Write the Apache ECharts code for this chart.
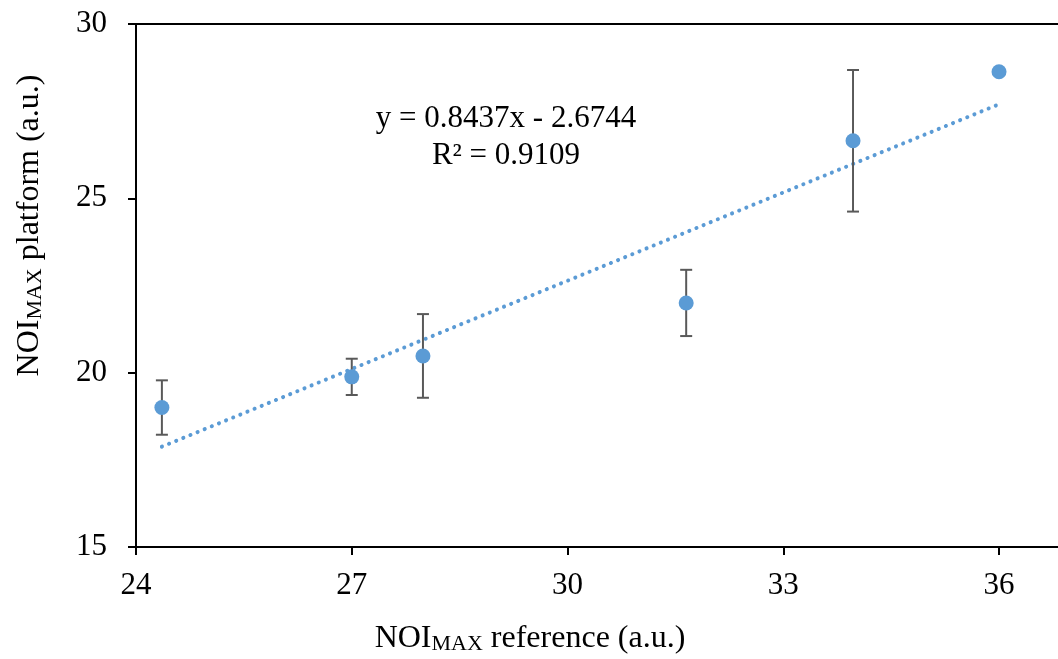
<!DOCTYPE html>
<html>
<head>
<meta charset="utf-8">
<script src="https://cdn.jsdelivr.net/npm/echarts@6/dist/echarts.min.js"></script>
<style>html,body{margin:0;padding:0;background:#fff}#c{width:1058px;height:659px}</style>
</head>
<body>
<div id="c"></div>
<script>
// Data
const xRef = [24.36, 27.0, 27.99, 31.65, 33.97, 36.0];
const yPlat = [19.0, 19.88, 20.48, 22.0, 26.65, 28.63];
const yErr = [0.78, 0.52, 1.2, 0.95, 2.03, 0];
const slope = 0.8437;
const intercept = -2.6744;
const eqText = 'y = 0.8437x - 2.6744';
const r2Text = 'R² = 0.9109';
const xTicks = [24, 27, 30, 33, 36];
const yTicks = [15, 20, 25, 30];

const FONT = 'Liberation Serif';
const BLUE = '#5B9BD5';
const FS = 31;

const points = xRef.map((x, i) => [x, yPlat[i]]);
const errData = xRef.map((x, i) => [x, yPlat[i] - yErr[i], yPlat[i] + yErr[i]]);
const xMinT = Math.min(...xRef), xMaxT = Math.max(...xRef);
const trend = [[xMinT, slope * xMinT + intercept], [xMaxT, slope * xMaxT + intercept]];

const nameRich = {
  n: { fontFamily: FONT, fontSize: 32, color: '#000', lineHeight: 38, verticalAlign: 'bottom' },
  s: { fontFamily: FONT, fontSize: 22, color: '#000', lineHeight: 38, verticalAlign: 'bottom', padding: [18, 0, 0, 0] }
};

const chart = echarts.init(document.getElementById('c'));
chart.setOption({
  animation: false,
  backgroundColor: '#fff',
  grid: { left: 136, top: 24, bottom: 112, right: 0, outerBoundsMode: 'none', containLabel: false },
  xAxis: [{
    type: 'value', min: 24, max: 36.82, interval: 3,
    axisLine: { show: true, lineStyle: { color: '#000', width: 2 } },
    axisTick: { show: true, inside: false, length: 8, customValues: xTicks, lineStyle: { color: '#000', width: 2 } },
    axisLabel: { color: '#000', fontFamily: FONT, fontSize: FS, margin: 23, customValues: xTicks },
    splitLine: { show: false },
    name: '{n|NOI}{s|MAX}{n| reference (a.u.)}',
    nameLocation: 'middle', nameGap: 70,
    nameTextStyle: { rich: nameRich, padding: [0, 134, 0, 0] }
  }, {
    type: 'value', position: 'top', min: 24, max: 36.82,
    axisLine: { show: true, onZero: false, lineStyle: { color: '#000', width: 2 } },
    axisTick: { show: false }, axisLabel: { show: false }, splitLine: { show: false }
  }],
  yAxis: {
    type: 'value', min: 15, max: 30, interval: 5,
    axisLine: { show: true, lineStyle: { color: '#000', width: 2 } },
    axisTick: { show: true, inside: false, length: 8, customValues: yTicks, lineStyle: { color: '#000', width: 2 } },
    axisLabel: { color: '#000', fontFamily: FONT, fontSize: FS, margin: 29, customValues: yTicks },
    splitLine: { show: false },
    name: '{n|NOI}{s|MAX}{n| platform (a.u.)}',
    nameLocation: 'middle', nameGap: 90, nameRotate: 90,
    nameTextStyle: { rich: nameRich, padding: [0, 0, 0, 120] }
  },
  graphic: [{
    type: 'text', x: 506, y: 100, z: 100,
    style: { text: eqText + '\n' + r2Text, font: FS + 'px "Liberation Serif"', fill: '#000', align: 'center', verticalAlign: 'top', lineHeight: 37 }
  }],
  series: [
    {
      type: 'line', data: trend, showSymbol: false, symbol: 'none', z: 1,
      lineStyle: { color: BLUE, width: 4, type: [0.1, 7.6], cap: 'round' }
    },
    {
      type: 'custom', z: 2, data: errData,
      renderItem: function (params, api) {
        const x = api.value(0);
        const lo = api.coord([x, api.value(1)]);
        const hi = api.coord([x, api.value(2)]);
        if (Math.abs(lo[1] - hi[1]) < 1) return null;
        const hw = 6;
        const st = { stroke: '#595959', lineWidth: 2 };
        return { type: 'group', children: [
          { type: 'line', shape: { x1: lo[0], y1: lo[1], x2: hi[0], y2: hi[1] }, style: st },
          { type: 'line', shape: { x1: lo[0] - hw, y1: lo[1], x2: lo[0] + hw, y2: lo[1] }, style: st },
          { type: 'line', shape: { x1: hi[0] - hw, y1: hi[1], x2: hi[0] + hw, y2: hi[1] }, style: st }
        ] };
      }
    },
    {
      type: 'scatter', data: points, symbol: 'circle', symbolSize: 15, z: 3,
      itemStyle: { color: BLUE, opacity: 1 }
    }
  ]
});
</script>
</body>
</html>
